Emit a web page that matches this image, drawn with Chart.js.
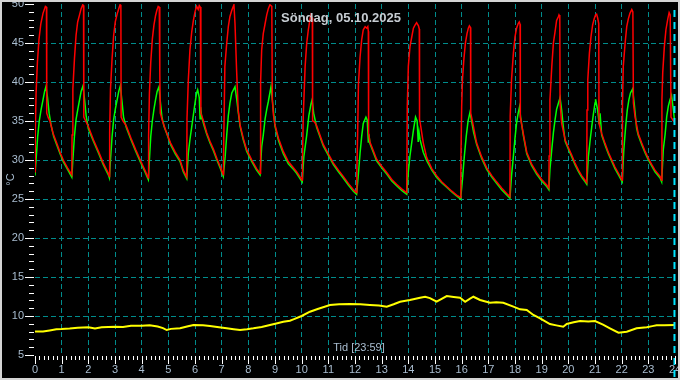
<!DOCTYPE html>
<html>
<head>
<meta charset="utf-8">
<script src="https://cdn.jsdelivr.net/npm/chart.js@4.4.1/dist/chart.umd.min.js"></script>
<style>
html,body{margin:0;padding:0;background:#000;}
canvas{display:block;}
</style>
</head>
<body>
<canvas id="c" width="680" height="380"></canvas>
<script>
// ---- data (hours, °C) ----
const titleText = "Söndag, 05.10.2025";
const xAxisText = "Tid [23:59]";
const yAxisText = "°C";
const xTicks = [0,1,2,3,4,5,6,7,8,9,10,11,12,13,14,15,16,17,18,19,20,21,22,23,24];
const yTicks = [5,10,15,20,25,30,35,40,45,50];

// red series (flow temperature)
const redT = [
 0.00,0.01,0.04,0.09,0.15,0.22,0.30,0.39,0.43,0.44,0.50,0.56,0.68,0.81,0.94,1.06,1.22,1.38,
 1.39,1.42,1.48,1.54,1.60,1.67,1.73,1.79,1.82,1.83,1.90,2.00,2.19,2.38,2.56,2.75,2.79,
 2.80,2.83,2.89,2.95,3.01,3.08,3.14,3.19,3.22,3.23,3.30,3.42,3.60,3.78,3.96,4.12,4.25,
 4.26,4.29,4.34,4.40,4.46,4.52,4.57,4.62,4.66,4.68,4.70,4.78,4.90,5.08,5.26,5.44,5.56,5.69,
 5.70,5.75,5.81,5.88,5.94,6.00,6.06,6.12,6.16,6.20,6.22,6.30,6.44,6.56,6.69,6.82,6.94,7.06,
 7.07,7.12,7.19,7.25,7.31,7.38,7.46,7.50,7.56,7.62,7.69,7.81,7.94,8.13,8.31,8.44,
 8.45,8.47,8.50,8.56,8.63,8.69,8.75,8.81,8.88,8.90,8.94,9.00,9.13,9.31,9.50,9.69,9.81,10.02,
 10.03,10.06,10.13,10.19,10.25,10.31,10.35,10.40,10.41,10.48,10.56,10.81,11.00,11.19,11.38,11.56,11.75,11.94,12.06,
 12.07,12.10,12.13,12.19,12.25,12.31,12.38,12.44,12.48,12.50,12.51,12.56,12.81,13.00,13.19,13.38,13.56,13.75,13.94,
 13.96,14.00,14.06,14.13,14.19,14.25,14.31,14.38,14.41,14.42,14.44,14.56,14.69,14.88,15.06,15.25,15.44,15.63,15.81,15.96,
 15.97,16.00,16.03,16.08,16.14,16.20,16.25,16.29,16.33,16.34,16.40,16.56,16.75,16.94,17.13,17.31,17.50,17.69,17.81,
 17.82,17.87,17.94,18.00,18.06,18.12,18.16,18.19,18.20,18.31,18.44,18.62,18.81,19.00,19.19,19.27,
 19.28,19.31,19.38,19.44,19.50,19.56,19.63,19.65,19.68,19.69,19.75,19.88,20.00,20.13,20.25,20.38,20.50,20.63,20.69,
 20.70,20.73,20.79,20.85,20.91,20.97,21.02,21.06,21.10,21.14,21.15,21.25,21.38,21.50,21.63,21.75,21.88,22.02,
 22.03,22.06,22.13,22.19,22.25,22.31,22.38,22.42,22.44,22.50,22.62,22.75,22.88,23.00,23.13,23.25,23.44,23.50,
 23.51,23.54,23.60,23.66,23.73,23.78,23.82,23.85,23.94,24.00
];
const redV = [
 28.5,33.5,38.5,42.5,45.5,47.5,48.8,49.7,49.6,36.0,35.4,35.0,33.4,32.2,31.0,30.0,29.0,28.1,
 33.2,39.1,43.0,46.0,47.7,48.6,49.4,49.9,49.8,35.5,35.0,34.3,32.6,31.1,29.6,28.3,27.9,
 33.5,39.0,43.0,46.0,47.7,48.7,49.4,49.9,49.8,35.5,35.0,34.4,32.8,31.3,29.9,28.7,27.7,
 33.0,38.5,42.5,45.5,47.3,48.5,49.2,49.7,49.6,41.0,36.0,35.0,33.8,32.2,31.0,30.0,28.7,27.8,
 35.3,40.3,44.1,46.5,47.9,49.0,49.7,49.3,49.8,49.6,36.0,35.2,33.5,32.4,31.4,30.2,29.2,28.1,
 30.4,42.0,45.0,47.1,48.4,49.2,49.9,47.5,41.5,36.4,34.5,32.8,31.3,30.0,28.9,28.3,
 33.0,40.0,44.1,46.2,47.5,48.6,49.4,49.9,49.7,37.7,35.8,34.5,32.8,31.1,29.8,29.0,28.5,27.4,
 30.0,35.6,42.0,45.0,46.7,48.0,48.6,48.2,35.0,34.9,34.4,32.0,30.8,29.6,28.7,27.9,27.0,26.2,25.8,
 28.5,33.5,39.8,43.2,45.4,46.7,47.1,46.9,47.1,46.5,33.5,32.3,30.1,29.2,28.4,27.5,26.9,26.3,25.8,
 36.8,42.0,44.5,45.8,46.9,47.3,47.6,47.2,46.8,35.2,34.9,32.2,30.3,28.9,28.0,27.2,26.6,26.0,25.5,25.2,
 29.6,36.8,40.3,42.8,45.0,46.2,46.9,47.2,47.0,36.0,35.0,32.2,30.4,29.0,28.0,27.2,26.4,25.7,25.3,
 35.6,40.3,43.7,45.8,46.9,47.5,47.7,47.4,35.5,33.4,31.0,29.5,28.4,27.5,26.8,26.4,
 30.5,37.7,42.0,45.0,46.4,47.9,48.4,48.6,48.4,37.3,34.7,32.6,31.6,30.6,29.6,28.7,28.0,27.4,27.1,
 36.4,40.3,43.7,45.8,47.3,48.1,48.6,48.7,48.2,47.5,34.7,33.4,32.1,31.0,30.0,29.1,28.3,27.4,
 37.0,42.0,45.0,47.1,48.1,48.8,49.3,49.0,37.3,35.6,33.4,32.2,31.1,30.2,29.4,28.7,27.9,27.4,
 37.7,41.2,44.5,46.7,48.1,48.9,48.6,35.5,35.0,34.9
];

// green series (return temperature)
const greenT = [
 0.00,0.04,0.10,0.16,0.23,0.30,0.36,0.41,0.47,0.53,0.60,0.70,0.81,0.94,1.06,1.22,1.38,
 1.42,1.48,1.54,1.60,1.67,1.73,1.80,1.86,1.92,2.00,2.19,2.38,2.56,2.75,2.79,
 2.83,2.89,2.95,3.01,3.08,3.14,3.20,3.26,3.32,3.42,3.60,3.78,3.96,4.12,4.25,
 4.29,4.34,4.40,4.46,4.52,4.58,4.65,4.70,4.76,4.84,4.96,5.08,5.26,5.44,5.56,5.69,
 5.75,5.81,5.88,5.94,6.00,6.06,6.10,6.16,6.19,6.21,6.25,6.35,6.44,6.56,6.69,6.82,6.94,7.06,
 7.13,7.19,7.25,7.31,7.38,7.50,7.56,7.62,7.69,7.81,7.94,8.13,8.31,8.44,
 8.50,8.56,8.63,8.69,8.75,8.85,8.90,9.00,9.13,9.31,9.50,9.69,9.81,10.02,
 10.08,10.19,10.27,10.35,10.39,10.45,10.56,10.81,11.00,11.19,11.38,11.56,11.75,11.94,12.06,
 12.13,12.19,12.25,12.31,12.41,12.46,12.50,12.52,12.56,12.81,13.00,13.19,13.38,13.56,13.75,13.94,
 14.00,14.06,14.13,14.19,14.27,14.33,14.37,14.40,14.44,14.56,14.69,14.88,15.06,15.25,15.44,15.63,15.81,15.96,
 16.03,16.10,16.17,16.24,16.31,16.36,16.45,16.56,16.75,16.94,17.13,17.31,17.50,17.69,17.81,
 17.87,17.94,18.00,18.06,18.12,18.17,18.21,18.31,18.44,18.62,18.81,19.00,19.19,19.27,
 19.31,19.38,19.44,19.50,19.56,19.63,19.69,19.75,19.81,19.88,20.00,20.13,20.25,20.38,20.50,20.63,20.69,
 20.75,20.82,20.88,20.94,21.00,21.02,21.10,21.16,21.19,21.25,21.38,21.50,21.63,21.75,21.88,22.02,
 22.08,22.15,22.21,22.27,22.33,22.41,22.48,22.56,22.62,22.75,22.88,23.00,23.13,23.25,23.44,23.50,
 23.56,23.63,23.69,23.75,23.81,23.87,23.94,24.00
];
const greenV = [
 28.0,30.0,33.0,35.0,36.5,37.7,38.8,39.4,38.0,36.0,34.5,33.0,32.0,30.8,29.8,28.8,27.8,
 30.0,33.1,35.2,36.4,37.7,38.8,39.5,37.7,35.6,34.0,32.4,30.9,29.4,28.1,27.7,
 30.0,33.0,35.2,36.5,37.7,38.8,39.5,37.6,35.5,34.2,32.6,31.1,29.7,28.5,27.5,
 30.0,33.0,35.0,36.5,37.7,38.8,39.4,37.5,35.5,34.3,33.2,32.0,30.8,29.8,28.5,27.6,
 30.9,32.6,34.3,35.8,37.3,38.6,39.0,38.0,35.3,36.8,35.5,34.3,33.3,32.2,31.2,30.0,29.0,27.9,
 30.4,33.2,35.7,37.3,38.6,39.4,37.9,36.2,34.3,32.6,31.1,29.8,28.7,28.1,
 31.7,33.2,35.3,36.5,37.5,39.4,37.7,34.3,32.5,30.8,29.5,28.8,28.3,27.2,
 30.4,33.2,35.7,37.2,37.7,36.0,34.2,31.8,30.6,29.4,28.5,27.7,26.8,26.0,25.6,
 28.3,30.9,33.0,34.7,35.5,35.1,32.3,33.3,32.1,29.9,29.0,28.2,27.3,26.7,26.1,25.6,
 28.5,30.5,32.3,33.8,35.5,35.0,32.3,33.6,32.6,31.0,29.9,28.7,27.8,27.1,26.5,25.9,25.4,25.0,
 27.5,30.5,33.0,35.0,36.1,35.2,33.5,32.0,30.2,28.8,27.8,27.0,26.2,25.5,25.1,
 28.0,30.5,32.8,34.8,36.0,36.8,35.5,33.2,30.8,29.3,28.2,27.3,26.6,26.2,
 28.8,31.4,33.5,35.1,36.5,37.3,38.0,36.4,34.3,32.4,31.4,30.4,29.4,28.5,27.8,27.2,26.9,
 30.4,32.6,34.3,35.9,37.3,37.8,36.4,34.6,36.0,33.2,31.9,30.8,29.8,28.9,28.1,27.2,
 31.3,34.3,36.4,37.7,38.6,39.1,36.9,34.1,33.2,32.0,30.9,30.0,29.2,28.5,27.7,27.2,
 31.3,33.3,35.6,36.9,37.7,38.3,36.4,34.5
];

// yellow series (outdoor temperature)
const outT = [
 0.00,0.30,0.55,0.80,1.00,1.30,1.60,2.00,2.25,2.50,3.00,3.30,3.60,4.00,4.30,4.60,4.80,4.94,5.10,5.44,5.70,5.94,
 6.30,6.56,6.90,7.19,7.45,7.69,7.95,8.19,8.50,8.81,9.05,9.31,9.56,9.69,10.00,10.31,10.60,11.06,11.40,11.81,
 12.20,12.56,12.90,13.19,13.45,13.69,14.06,14.44,14.63,14.81,15.06,15.25,15.44,15.70,15.94,16.13,16.30,16.44,16.69,
 17.06,17.30,17.56,17.94,18.19,18.44,18.69,18.94,19.31,19.55,19.81,19.94,20.20,20.44,20.75,21.00,21.30,21.56,21.88,
 22.19,22.56,22.94,23.15,23.31,23.60,24.00
];
const outV = [
 8.0,8.0,8.15,8.3,8.33,8.4,8.5,8.55,8.4,8.55,8.63,8.6,8.75,8.76,8.8,8.65,8.45,8.2,8.35,8.42,8.65,8.85,
 8.8,8.72,8.55,8.42,8.3,8.2,8.3,8.42,8.6,8.85,9.05,9.27,9.4,9.57,10.0,10.55,10.9,11.41,11.5,11.54,
 11.5,11.41,11.35,11.2,11.5,11.83,12.05,12.35,12.47,12.3,11.83,12.2,12.56,12.45,12.35,11.83,12.2,12.47,12.05,
 11.7,11.75,11.7,11.2,10.85,10.77,10.13,9.7,8.97,8.8,8.63,8.97,9.2,9.36,9.3,9.36,8.9,8.42,7.86,
 7.99,8.42,8.55,8.7,8.8,8.8,8.85
];
const nowMarker = 23.98;

// ---- build ----
const pts = (T, V) => T.map((t, i) => ({x: t, y: V[i]}));
const GRID = '#008c8c';
const LABEL = '#a9bdd0';
const FONT = '"Liberation Sans", Arial, sans-serif';

const deco = {
  id: 'deco',
  beforeDraw(c) {
    const ctx = c.ctx;
    ctx.save();
    ctx.fillStyle = '#000';
    ctx.fillRect(0, 0, c.width, c.height);
    ctx.restore();
  },
  afterDatasetsDraw(c) {
    const ctx = c.ctx, xs = c.scales.x, ys = c.scales.y, a = c.chartArea;
    ctx.save();
    // now marker
    const nx = xs.getPixelForValue(nowMarker);
    ctx.strokeStyle = '#00e5ff';
    ctx.lineWidth = 2;
    ctx.setLineDash([7, 5]);
    ctx.beginPath();
    ctx.moveTo(nx, a.top + 6);
    ctx.lineTo(nx, c.height - 2);
    ctx.stroke();
    ctx.setLineDash([]);
    // tick marks
    ctx.strokeStyle = '#ffffff';
    ctx.lineWidth = 1;
    ctx.beginPath();
    const n = (xTicks[xTicks.length - 1] - xTicks[0]) * 6;
    for (let m = 0; m <= n; m++) {
      const px = Math.round(xs.getPixelForValue(xTicks[0] + m / 6)) + 0.5;
      const len = (m % 6 === 0) ? 8 : 4;
      ctx.moveTo(px, a.bottom + 1);
      ctx.lineTo(px, a.bottom + 1 + len);
    }
    for (let v = yTicks[0]; v <= yTicks[yTicks.length - 1]; v++) {
      const py = Math.round(ys.getPixelForValue(v)) + 0.5;
      const len = (v % 5 === 0) ? 9 : 5;
      ctx.moveTo(a.left - 1 - len, py);
      ctx.lineTo(a.left - 1, py);
    }
    ctx.stroke();
    // texts
    ctx.textAlign = 'center';
    ctx.textBaseline = 'middle';
    ctx.fillStyle = '#c6ccd2';
    ctx.font = 'bold 13px ' + FONT;
    ctx.fillText(titleText, 341, a.top + 14);
    ctx.fillStyle = LABEL;
    ctx.font = '11px ' + FONT;
    ctx.fillText(xAxisText, 359, a.bottom - 7);
    ctx.save();
    ctx.translate(11, (a.top + a.bottom) / 2);
    ctx.rotate(-Math.PI / 2);
    ctx.fillText(yAxisText, 0, 0);
    ctx.restore();
    // frame
    ctx.strokeStyle = '#d4d4d4';
    ctx.lineWidth = 2;
    ctx.strokeRect(1, 1, c.width - 2, c.height - 2);
    ctx.restore();
  }
};

new Chart(document.getElementById('c'), {
  type: 'line',
  data: {
    datasets: [
      {data: pts(outT, outV), borderColor: '#ffff00', borderWidth: 2, pointRadius: 0, tension: 0},
      {data: pts(redT, redV), borderColor: '#ff0000', borderWidth: 1.5, pointRadius: 0, tension: 0},
      {data: pts(greenT, greenV), borderColor: '#00ff00', borderWidth: 1.5, pointRadius: 0, tension: 0}
    ]
  },
  options: {
    responsive: false,
    animation: false,
    devicePixelRatio: 1,
    layout: {padding: {top: 4, right: 5, left: 0, bottom: 0}},
    plugins: {legend: {display: false}, tooltip: {enabled: false}, title: {display: false}},
    scales: {
      x: {
        type: 'linear',
        min: xTicks[0], max: xTicks[xTicks.length - 1],
        afterBuildTicks: s => { s.ticks = xTicks.map(v => ({value: v})); },
        ticks: {color: LABEL, font: {size: 11, family: FONT}, padding: 8, maxRotation: 0, autoSkip: false},
        grid: {
          color: ctx => (ctx.tick && (ctx.tick.value === xTicks[0] || ctx.tick.value === xTicks[xTicks.length - 1])) ? 'rgba(0,0,0,0)' : GRID,
          lineWidth: 1, drawTicks: false
        },
        border: {display: false, dash: [5, 3]},
        afterFit: s => { s.height = 25; s.paddingLeft = 0; s.paddingRight = 0; }
      },
      y: {
        min: yTicks[0], max: yTicks[yTicks.length - 1],
        afterBuildTicks: s => { s.ticks = yTicks.map(v => ({value: v})); },
        ticks: {color: LABEL, font: {size: 11, family: FONT}, padding: 11},
        grid: {
          color: ctx => (ctx.tick && (ctx.tick.value === yTicks[0] || ctx.tick.value === yTicks[yTicks.length - 1])) ? 'rgba(0,0,0,0)' : GRID,
          lineWidth: 1, drawTicks: false
        },
        border: {display: false, dash: [5, 3]},
        afterFit: s => { s.width = 35; s.paddingTop = 0; s.paddingBottom = 0; }
      }
    }
  },
  plugins: [deco]
});
</script>
</body>
</html>
